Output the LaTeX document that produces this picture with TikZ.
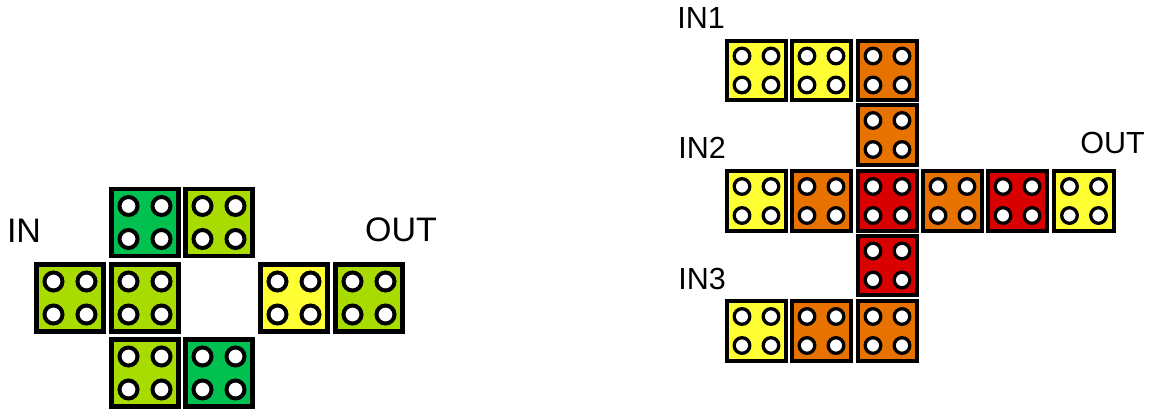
\documentclass[tikz,border=0pt]{standalone}
\usepackage{fontspec}
\setmainfont{Liberation Sans}
\definecolor{dgreen}{RGB}{0,192,80}
\definecolor{lgreen}{RGB}{168,220,0}
\definecolor{cyellow}{RGB}{255,255,51}
\definecolor{corange}{RGB}{232,114,0}
\definecolor{cred}{RGB}{216,0,0}
\tikzset{
  cellL/.style={draw=black, line width=4.7pt, minimum size=67pt, inner sep=0pt, outer sep=0pt,
    path picture={\foreach \dx in {-1,1} \foreach \dy in {-1,1}
      \draw[line width=4pt, fill=white] ([shift={(\dx*16.5,\dy*16.5)}]path picture bounding box.center) circle (9pt);}},
  cellR/.style={draw=black, line width=4pt, minimum size=59.5pt, inner sep=0pt, outer sep=0pt,
    path picture={\foreach \dx in {-1,1} \foreach \dy in {-1,1}
      \draw[line width=3.3pt, fill=white] ([shift={(\dx*14.5,\dy*14.5)}]path picture bounding box.center) circle (7.8pt);}},
  lblL/.style={font=\fontsize{34}{40}\selectfont, inner sep=0pt},
  lblR/.style={font=\fontsize{30.5}{36}\selectfont, inner sep=0pt}
}
\begin{document}
\begin{tikzpicture}[x=1pt,y=-1pt]
\useasboundingbox[fill=white] (0,0) rectangle (1149,412);
% left figure
\node[cellL, fill=dgreen] (l11) at (145,222.5) {};
\node[cellL, fill=lgreen] (l12) at (219,222.5) {};
\node[cellL, fill=lgreen] (l20) at (70,298) {};
\node[cellL, fill=lgreen] (l21) at (145,298) {};
\node[cellL, fill=cyellow] (l23) at (294,298) {};
\node[cellL, fill=lgreen] (l24) at (369,298) {};
\node[cellL, fill=lgreen] (l31) at (145,373) {};
\node[cellL, fill=dgreen] (l32) at (219,373) {};
\node[lblL] (inL) at (24,231) {IN};
\node[lblL] (outL) at (401,230) {OUT};
% right figure
\node[cellR, fill=cyellow] (r00) at (756.5,70.5) {};
\node[cellR, fill=cyellow] (r01) at (821.5,70.5) {};
\node[cellR, fill=corange] (r02) at (887.5,70.5) {};
\node[cellR, fill=corange] (r12) at (887.5,135) {};
\node[cellR, fill=cyellow] (r20) at (756.5,201) {};
\node[cellR, fill=corange] (r21) at (821.5,201) {};
\node[cellR, fill=cred] (r22) at (887.5,201) {};
\node[cellR, fill=corange] (r23) at (952.5,201) {};
\node[cellR, fill=cred] (r24) at (1017.5,201) {};
\node[cellR, fill=cyellow] (r25) at (1084,201) {};
\node[cellR, fill=cred] (r32) at (887.5,265.5) {};
\node[cellR, fill=cyellow] (r40) at (756.5,331) {};
\node[cellR, fill=corange] (r41) at (821.5,331) {};
\node[cellR, fill=corange] (r42) at (887.5,331) {};
\node[lblR] (in1) at (701,18) {IN1};
\node[lblR] (in2) at (702,148) {IN2};
\node[lblR] (in3) at (702,279) {IN3};
\node[lblR] (outR) at (1112.5,143.5) {OUT};
\end{tikzpicture}
\end{document}
